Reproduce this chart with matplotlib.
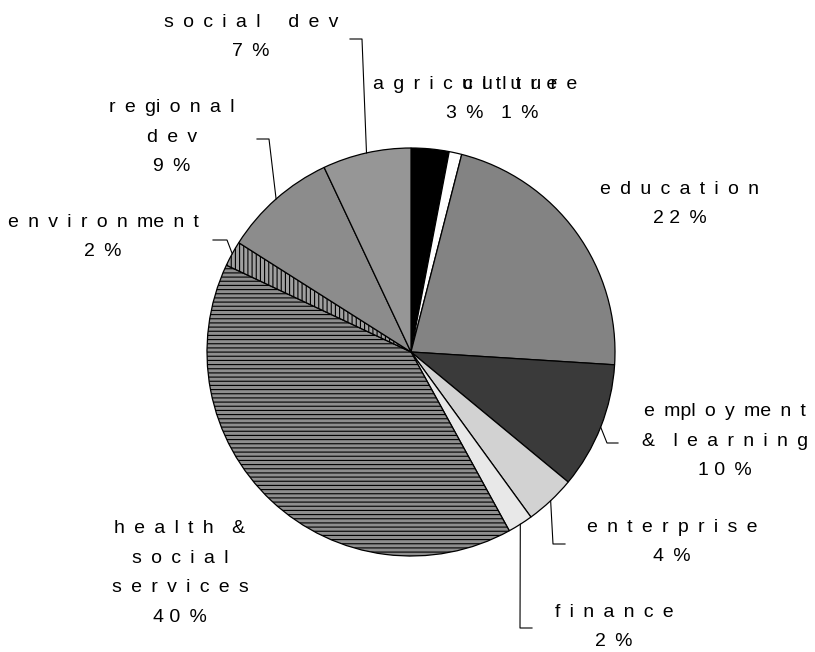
import numpy as np
import matplotlib
matplotlib.use('Agg')
import matplotlib.pyplot as plt

plt.rcParams['font.family'] = ['Liberation Sans', 'DejaVu Sans']
plt.rcParams['hatch.linewidth'] = 0.8

# spending by sector, per cent of total
sectors = ['agriculture', 'culture', 'education', 'employment & learning',
           'enterprise', 'finance', 'health & social services',
           'environment', 'regional dev', 'social dev']
shares = [3, 1, 22, 10, 4, 2, 40, 2, 9, 7]

# label text as typeset; each space is one letter-spacing gap
label_names = ['a g r i c u l t u r e', 'c u l t u r e', 'e d u c a t i o n',
               'e mpl o y me n t\n&  l e a r n i n g', 'e n t e r p r i s e',
               'f i n a n c e', 'h e a l t h  &\ns o c i a l\ns e r v i c e s',
               'e n v i r o n me n t', 'r e gi o n a l\nd e v', 's o c i a l   d e v']

fills = ['#000000', '#ffffff', '#838383', '#3a3a3a', '#d2d2d2',
         '#e8e8e8', '#8e8e8e', '#a0a0a0', '#8c8c8c', '#969696']
hatches = [None, None, None, None, None, None, '----', '||||', None, None]

W, H = 815, 652
cx, cy, r = 411, H - 352, 204
gap = ' \u2009'

# label block centres in pixel coords (x, y from top)
label_pos = [(465, 99), (520, 99), (680, 204), (725, 441), (672, 542),
             (614, 627), (180, 573), (103, 237), (172, 137), (251, 37)]

# leader lines: elbow point and end point, pixel coords
leaders = {3: ((607, 443), (618, 443)),
           4: ((553, 544), (565, 544)),
           5: ((520, 628), (532, 628)),
           7: ((227, 240), (213, 240)),
           8: ((269, 139), (257, 139)),
           9: ((362, 39), (350, 39))}

fig = plt.figure(figsize=(W / 100, H / 100), dpi=100)
ax = fig.add_axes([0, 0, 1, 1])

wedges, _ = ax.pie(shares, colors=fills, startangle=90, counterclock=False,
                   center=(cx, cy), radius=r,
                   wedgeprops=dict(edgecolor='black', linewidth=0.9))
for w, h in zip(wedges, hatches):
    if h:
        w.set_hatch(h)

for i, (elbow, end) in leaders.items():
    t = np.deg2rad((wedges[i].theta1 + wedges[i].theta2) / 2)
    sx, sy = cx + r * np.cos(t), cy + r * np.sin(t)
    ax.plot([sx, elbow[0], end[0]], [sy, H - elbow[1], H - end[1]],
            color='black', lw=0.8)

for name, v, (x, y) in zip(label_names, shares, label_pos):
    pct = ' '.join(str(v)) + gap + '%'
    txt = name.replace(' ', gap) + '\n' + pct
    ax.text(x, H - y, txt, ha='center', va='center',
            fontsize=14, linespacing=1.95, color='black')

ax.set_xlim(0, W)
ax.set_ylim(0, H)
ax.set_aspect('equal')
ax.axis('off')

fig.savefig('out.png', dpi=100)
